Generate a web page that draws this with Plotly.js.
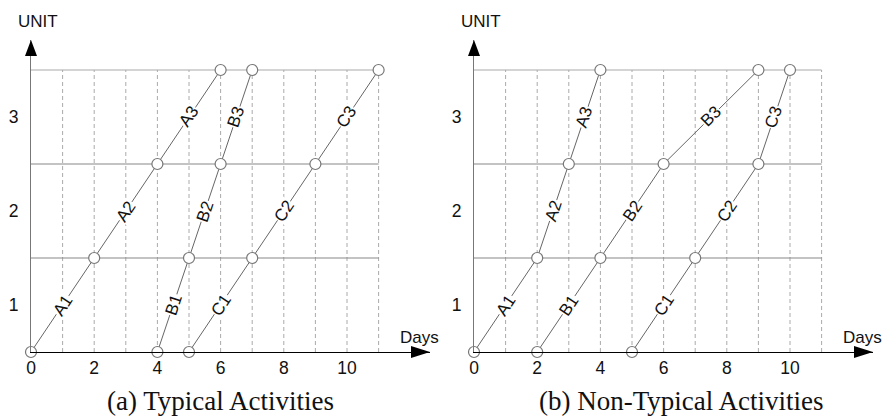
<!DOCTYPE html>
<html><head><meta charset="utf-8">
<script src="https://cdn.plot.ly/plotly-3.0.1.min.js"></script>
<style>html,body{margin:0;padding:0;background:#fff}#chart{width:882px;height:417px}</style>
</head><body><div id="chart"></div>
<script>
// ---- data ----
const unitsY = [0, 1, 2, 3];
const activityNames = ['A', 'B', 'C'];
// (a) Typical Activities: day at which each activity reaches unit boundary 0..3
const typA = [0, 2, 4, 6];
const typB = [4, 5, 6, 7];
const typC = [5, 7, 9, 11];
// (b) Non-Typical Activities
const ntA = [0, 2, 3, 4];
const ntB = [2, 4, 6, 9];
const ntC = [5, 7, 9, 10];
const xTickVals = [0, 2, 4, 6, 8, 10];
const yTickVals = [0.5, 1.5, 2.5];
const yTickText = ['1', '2', '3'];
const gridDays = [1, 2, 3, 4, 5, 6, 7, 8, 9, 10, 11];
const unitLines = [1, 2, 3];
const panelTitles = ['(a) Typical Activities', '(b) Non-Typical Activities'];

// ---- geometry ----
const W = 882, H = 417;
const PXD = 31.6, PXU = 94;
const XMAX = 399 / PXD, YMAX = 312 / PXU;
const px = v => v / W, py = v => 1 - v / H;
const panels = [
  {x0: 31, xs: 'x', ys: 'y', series: [typA, typB, typC], title: panelTitles[0], tcx: 220},
  {x0: 474, xs: 'x2', ys: 'y2', series: [ntA, ntB, ntC], title: panelTitles[1], tcx: 681}
];
const baseY = 352, topY = 40;

const traces = [], shapes = [], annotations = [];
const fontSans = 'Liberation Sans, Arial, sans-serif';

panels.forEach(p => {
  gridDays.forEach(d => shapes.push({type: 'line', xref: p.xs, yref: p.ys, x0: d, x1: d, y0: 0, y1: 3,
    line: {color: '#aaa', width: 1, dash: '4px,3px'}, layer: 'below'}));
  unitLines.forEach(u => shapes.push({type: 'line', xref: p.xs, yref: p.ys, x0: 0, x1: 11, y0: u, y1: u,
    line: {color: u === 3 ? '#aaa' : '#888', width: 1.2}, layer: 'below'}));
  const tipX = p.x0 + 399;
  shapes.push({type: 'path', xref: 'paper', yref: 'paper', fillcolor: '#000', line: {width: 0},
    path: `M${px(tipX - 19)},${py(baseY - 6)} L${px(tipX)},${py(baseY)} L${px(tipX - 19)},${py(baseY + 6)} Z`});
  shapes.push({type: 'path', xref: 'paper', yref: 'paper', fillcolor: '#000', line: {width: 0},
    path: `M${px(p.x0 - 6)},${py(topY + 16)} L${px(p.x0)},${py(topY)} L${px(p.x0 + 6)},${py(topY + 16)} Z`});
  p.series.forEach((days, i) => {
    traces.push({type: 'scatter', mode: 'lines+markers', x: days, y: unitsY, xaxis: p.xs, yaxis: p.ys,
      line: {color: '#666', width: 1}, cliponaxis: false, hoverinfo: 'skip',
      marker: {symbol: 'circle', size: 11, color: '#fff', line: {color: '#777', width: 1.2}}});
    for (let k = 0; k < 3; k++) {
      const dx = (days[k + 1] - days[k]) * PXD, dy = (unitsY[k + 1] - unitsY[k]) * PXU;
      const ang = -Math.atan2(dy, dx) * 180 / Math.PI;
      annotations.push({xref: p.xs, yref: p.ys, x: (days[k] + days[k + 1]) / 2, y: (unitsY[k] + unitsY[k + 1]) / 2,
        xanchor: 'center', yanchor: 'middle',
        text: activityNames[i] + (k + 1), showarrow: false, textangle: ang, bgcolor: '#fff', borderpad: 0,
        font: {family: fontSans, size: 17, color: '#111'}});
    }
  });
  annotations.push({xref: 'paper', yref: 'paper', x: px(p.x0 + 7), y: py(21), xanchor: 'center', yanchor: 'middle',
    text: 'UNIT', showarrow: false, font: {family: fontSans, size: 17, color: '#111'}});
  annotations.push({xref: 'paper', yref: 'paper', x: px(p.x0 + 388), y: py(337), xanchor: 'center', yanchor: 'middle',
    text: 'Days', showarrow: false, font: {family: fontSans, size: 17, color: '#111'}});
  annotations.push({xref: 'paper', yref: 'paper', x: px(p.tcx), y: py(401), xanchor: 'center', yanchor: 'middle',
    text: p.title, showarrow: false, font: {family: 'Liberation Serif, Times New Roman, serif', size: 27, color: '#111'}});
});

const xaxisBase = {range: [0, XMAX], showgrid: false, zeroline: false, showline: true, linecolor: '#000', linewidth: 1.2,
  tickvals: xTickVals, ticks: '', tickfont: {family: fontSans, size: 17.5, color: '#111'}, fixedrange: true};
const yaxisBase = {range: [0, YMAX], showgrid: false, zeroline: false, showline: true, linecolor: '#777', linewidth: 1,
  tickvals: yTickVals, ticktext: yTickText, ticks: '', ticklabelstandoff: 8,
  tickfont: {family: fontSans, size: 17.5, color: '#111'}, fixedrange: true,
  domain: [py(baseY), py(topY)]};

const layout = {
  width: W, height: H, margin: {l: 0, r: 0, t: 0, b: 0}, showlegend: false,
  paper_bgcolor: '#fff', plot_bgcolor: 'rgba(0,0,0,0)',
  xaxis: Object.assign({}, xaxisBase, {domain: [px(31), px(430)], anchor: 'y'}),
  yaxis: Object.assign({}, yaxisBase, {anchor: 'x'}),
  xaxis2: Object.assign({}, xaxisBase, {domain: [px(474), px(873)], anchor: 'y2'}),
  yaxis2: Object.assign({}, yaxisBase, {anchor: 'x2'}),
  shapes: shapes, annotations: annotations
};
Plotly.newPlot('chart', traces, layout, {displayModeBar: false, staticPlot: true});
</script></body></html>
